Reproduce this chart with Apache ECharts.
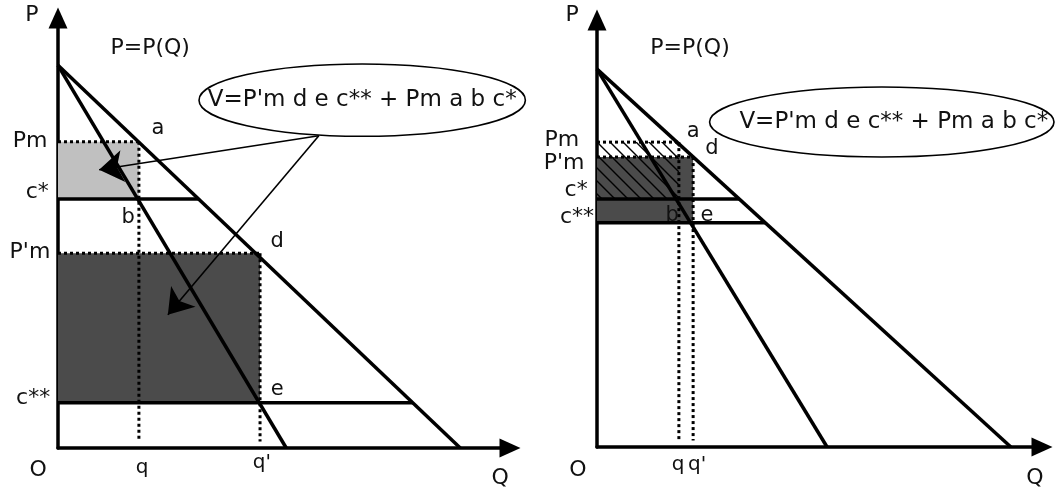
<!DOCTYPE html>
<html>
<head>
<meta charset="utf-8">
<script src="https://cdn.jsdelivr.net/npm/echarts@6/dist/echarts.min.js"></script>
<style>
  html, body { margin: 0; background: #fff; }
  #chart { width: 1057px; height: 497px; }
</style>
</head>
<body>
<div id="chart"></div>
<script>
// ===== left panel: c* and c** far apart =====
const leftDemand = [[0, 89], [89, 0]];
const leftMR = [[0, 89], [50.5, 0]];
const leftPrices = [71.2, 57.9, 45.3, 10.5];   // Pm, c*, P'm, c**
const leftQty = [17.9, 44.7];                  // q, q'
const leftCostEnd = [31.1, 78.5];              // c*, c** lines meet demand
const leftEllipse = [67.3, 80.9, 36.1, 8.4];   // cx, cy, rx, ry
const leftArrows = [
  [[57.7, 72.6], [9.1, 64.7]],
  [[57.7, 72.6], [24.3, 31.0]],
];
const leftAxisText = [[-5.8, 100.7, 'P'], [-4.4, -5.1, 'O'], [97.8, -7.0, 'Q']];
const leftLevelText = [[-6.2, 71.4, 'Pm'], [-4.6, 59.5, 'c*'], [-6.2, 45.6, "P'm"], [-5.5, 11.6, 'c**']];
const leftQtyText = [[18.6, -4.7, 'q'], [45.1, -3.5, "q'"]];
const leftPointText = [[22.1, 74.4, 'a'], [15.5, 53.7, 'b'], [48.5, 47.9, 'd'], [48.5, 13.5, 'e']];
const leftTitle = [[20.4, 93.0, 'P=P(Q)']];
const leftFormula = [[67.3, 80.9, "V=P'm d e c** + Pm a b c*"]];

// ===== right panel: c* and c** close together =====
const rightDemand = [[0, 88.5], [93, 0]];
const rightMR = [[0, 88.5], [51.7, 0]];
const rightPrices = [71.4, 58.1, 67.9, 52.5];  // Pm, c*, P'm, c**
const rightQty = [18.4, 21.6];                 // q, q'
const rightCostEnd = [31.9, 37.8];
const rightEllipse = [64.0, 76.1, 38.7, 8.2];
const rightArrows = [];
const rightAxisText = [[-5.6, 101.2, 'P'], [-4.3, -5.4, 'O'], [98.4, -7.3, 'Q']];
const rightLevelText = [[-7.9, 71.9, 'Pm'], [-7.4, 66.5, "P'm"], [-4.7, 60.2, 'c*'], [-4.5, 53.9, 'c**']];
const rightQtyText = [[18.2, -4.2, 'q'], [22.5, -4.2, "q'"]];
const rightPointText = [[21.6, 73.8, 'a'], [25.8, 70.0, 'd'], [16.9, 54.3, 'b'], [24.7, 54.3, 'e']];
const rightTitle = [[20.9, 93.4, 'P=P(Q)']];
const rightFormula = [[66.7, 76.1, "V=P'm d e c** + Pm a b c*"]];

// diagonal hatching tile
function hatchTile() {
  const c = document.createElement('canvas');
  c.width = c.height = 13;
  const g = c.getContext('2d');
  g.strokeStyle = '#000';
  g.lineWidth = 1.4;
  g.beginPath();
  g.moveTo(-2, -2); g.lineTo(15, 15);
  g.moveTo(-2, 11); g.lineTo(2, 15);
  g.moveTo(11, -2); g.lineTo(15, 2);
  g.stroke();
  return c;
}
const hatch = { image: hatchTile(), repeat: 'repeat' };

const FONT = '"DejaVu Sans", sans-serif';

function textSeries(i, items, size) {
  return {
    type: 'custom', xAxisIndex: i, yAxisIndex: i, z: 10, silent: true,
    data: items.map(t => [t[0], t[1]]),
    renderItem: (params, api) => {
      const c = api.coord([api.value(0), api.value(1)]);
      return {
        type: 'text', x: c[0], y: c[1],
        style: { text: items[params.dataIndex][2], fill: '#111', fontSize: size, fontFamily: FONT, align: 'center', verticalAlign: 'middle' },
      };
    },
  };
}

function panel(i, p) {
  const ax = { xAxisIndex: i, yAxisIndex: i };
  const [pm, cs, ppm, css] = p.prices;
  const [q, q2] = p.qty;
  const solid = { color: '#000', width: 3.5 };
  const dotted = { color: '#000', width: 3, type: [3, 3] };
  const seg = (pts, style) => ({ type: 'line', ...ax, data: pts, symbol: 'none', silent: true, lineStyle: style, z: 4 });

  // shaded rectangles
  const rects = p.rects(pm, cs, ppm, css, q, q2);
  const out = [{
    type: 'custom', ...ax, z: 1, silent: true,
    data: rects.map(r => r.box),
    renderItem: (params, api) => {
      const a = api.coord([api.value(0), api.value(1)]);
      const b = api.coord([api.value(2), api.value(3)]);
      return {
        type: 'rect',
        shape: { x: Math.min(a[0], b[0]), y: Math.min(a[1], b[1]), width: Math.abs(b[0] - a[0]), height: Math.abs(b[1] - a[1]) },
        style: { fill: rects[params.dataIndex].fill },
      };
    },
  }];

  // dotted guides
  out.push(seg([[0, pm], [q, pm]], dotted));
  out.push(seg([[q, pm], [q, 1.5]], dotted));
  out.push(seg([[0, ppm], [q2, ppm]], dotted));
  out.push(seg([[q2, ppm], [q2, 1.5]], dotted));

  // demand, marginal revenue, cost lines
  out.push(seg(p.demand, solid));
  out.push(seg(p.mr, solid));
  out.push(seg([[0, cs], [p.costEnd[0], cs]], solid));
  out.push(seg([[0, css], [p.costEnd[1], css]], solid));

  // formula ellipse
  out.push({
    type: 'custom', ...ax, z: 5, silent: true,
    data: [p.ellipse],
    renderItem: (params, api) => {
      const c = api.coord([api.value(0), api.value(1)]);
      const s = api.size([api.value(2), api.value(3)]);
      return {
        type: 'ellipse',
        shape: { cx: c[0], cy: c[1], rx: s[0], ry: s[1] },
        style: { fill: '#fff', stroke: '#000', lineWidth: 1.6 },
      };
    },
  });

  if (p.arrows.length) {
    out.push({
      type: 'lines', coordinateSystem: 'cartesian2d', ...ax, z: 6, silent: true,
      symbol: ['none', 'arrow'], symbolSize: 24,
      lineStyle: { color: '#000', width: 1.6, opacity: 1 },
      data: p.arrows.map(a => ({ coords: a })),
    });
  }

  out.push(textSeries(i, p.axisText, 22));
  out.push(textSeries(i, p.levelText, 22));
  out.push(textSeries(i, p.qtyText, 20));
  out.push(textSeries(i, p.pointText, 21));
  out.push(textSeries(i, p.title, 22));
  out.push(textSeries(i, p.formula, 23));
  return out;
}

const series = [
  ...panel(0, {
    demand: leftDemand, mr: leftMR, prices: leftPrices, qty: leftQty, costEnd: leftCostEnd,
    ellipse: leftEllipse, arrows: leftArrows,
    axisText: leftAxisText, levelText: leftLevelText, qtyText: leftQtyText, pointText: leftPointText,
    title: leftTitle, formula: leftFormula,
    rects: (pm, cs, ppm, css, q, q2) => [
      { box: [0, pm, q, cs], fill: '#c0c0c0' },
      { box: [0, ppm, q2, css], fill: '#4b4b4b' },
    ],
  }),
  ...panel(1, {
    demand: rightDemand, mr: rightMR, prices: rightPrices, qty: rightQty, costEnd: rightCostEnd,
    ellipse: rightEllipse, arrows: rightArrows,
    axisText: rightAxisText, levelText: rightLevelText, qtyText: rightQtyText, pointText: rightPointText,
    title: rightTitle, formula: rightFormula,
    rects: (pm, cs, ppm, css, q, q2) => [
      { box: [0, ppm, q2, css], fill: '#4b4b4b' },
      { box: [0, pm, q, cs], fill: hatch },
    ],
  }),
];

const axisLine = {
  show: true,
  symbol: ['none', 'triangle'],
  symbolSize: [19, 21],
  lineStyle: { color: '#000', width: 3.5 },
};
const bareAxis = (i) => ({
  gridIndex: i, type: 'value', min: 0, max: 100,
  axisLine, axisTick: { show: false }, axisLabel: { show: false }, splitLine: { show: false },
});

const chart = echarts.init(document.getElementById('chart'), null, { renderer: 'canvas' });
chart.setOption({
  animation: false,
  backgroundColor: '#fff',
  grid: [
    { left: 58, top: 18, width: 452, height: 430 },
    { left: 597, top: 20, width: 445, height: 427 },
  ],
  xAxis: [bareAxis(0), bareAxis(1)],
  yAxis: [bareAxis(0), bareAxis(1)],
  series,
});
</script>
</body>
</html>
